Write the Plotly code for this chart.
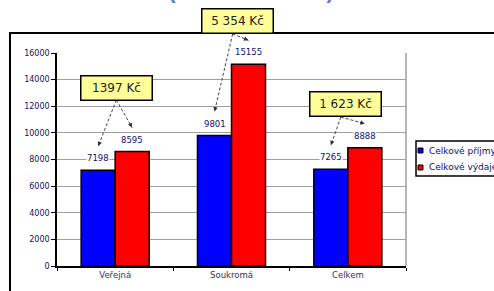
import math
import plotly.graph_objects as go

categories = ["Veřejná", "Soukromá", "Celkem"]
prijmy = [7198, 9801, 7265]
vydaje = [8595, 15155, 8888]
rozdil_labels = ["1397 Kč", "5 354 Kč", "1 623 Kč"]
series_names = ["Celkové příjmy", "Celkové výdaje"]
series_colors = ["#0000ff", "#ff0000"]
y_ticks = [0, 2000, 4000, 6000, 8000, 10000, 12000, 14000, 16000]
Y_MAX = 16000

FONT = "DejaVu Sans, sans-serif"
NAVY = "#10106a"

# layout geometry (figure pixels)
W, H = 494, 291
ML, MT = 57, 53
PLOT_W, PLOT_H = 349, 213
MR, MB = W - ML - PLOT_W, H - MT - PLOT_H

fig = go.Figure()
for name, vals, col in zip(series_names, [prijmy, vydaje], series_colors):
    fig.add_trace(go.Bar(x=categories, y=vals, name=name,
                         marker=dict(color=col, line=dict(color="black", width=1.5))))

half = 0.146
# positions of difference boxes / arrow tails (category-index, data y) -- layout choices
box_pos = [(0.01, 13370), (1.05, 18400), (1.98, 12150)]
tail_pos = [(0.01, 12470), (1.01, 17430), (1.94, 11190)]
ARROW_LIFT = 1800


def py(v):
    return v / Y_MAX


annotations = []
shapes = []
for i in range(3):
    for j, vals in enumerate([prijmy, vydaje]):
        xi = i + (-half if j == 0 else half)
        v = vals[i]
        annotations.append(dict(x=xi, y=py(v), xref="x", yref="y domain", text=str(v), showarrow=False,
                                yanchor="middle", xanchor="center",
                                yshift=12, bgcolor="white", borderpad=0,
                                font=dict(size=8.5, color=NAVY, family=FONT)))
        tx, ty = tail_pos[i]
        hy = v + ARROW_LIFT
        shapes.append(dict(type="line", xref="x", yref="y domain", x0=tx, y0=py(ty), x1=xi, y1=py(hy),
                           line=dict(color="#444444", width=1, dash="3px,2px")))
        dxp = (xi - tx) * PLOT_W / 3
        dyp = -(py(hy) - py(ty)) * PLOT_H
        ln = math.hypot(dxp, dyp)
        annotations.append(dict(x=xi, y=py(hy), xref="x", yref="y domain", text="",
                                showarrow=True, ax=-dxp / ln * 6, ay=-dyp / ln * 6,
                                arrowhead=2, arrowsize=0.9, arrowwidth=1, arrowcolor="#333333"))
    annotations.append(dict(x=box_pos[i][0], y=py(box_pos[i][1]), xref="x", yref="y domain",
                            yanchor="middle", xanchor="center",
                            text=rozdil_labels[i], showarrow=False, bgcolor="#ffff99",
                            bordercolor="black", borderwidth=1.5, borderpad=1, width=68, height=21,
                            font=dict(size=12, color="#222222", family=FONT)))

annotations.append(dict(x=0.556, y=1.2254, xref="paper", yref="paper", yanchor="bottom",
                        xanchor="center",
                        text="<b>(za měsíc v Kč)</b>", showarrow=False,
                        font=dict(size=23, color="#6680cc", family="Arial, Liberation Sans")))

# outer chart frame and plot-area right border
shapes += [
    dict(type="rect", xref="paper", yref="paper", x0=-0.1347, x1=1.3, y0=-0.15, y1=1.0939,
         line=dict(color="black", width=2), layer="below"),
    dict(type="line", xref="paper", yref="paper", x0=1, x1=1, y0=0, y1=1,
         line=dict(color="#a0a0a0", width=1.5)),
]

# legend (box, colour keys, names)
shapes.append(dict(type="rect", xref="paper", yref="paper", x0=1.0287, x1=1.35, y0=0.4225, y1=0.5869,
                   line=dict(color="black", width=1.5), fillcolor="white"))
key_y = [(0.5305, 0.554), (0.4507, 0.4742)]
for name, col, (y0, y1) in zip(series_names, series_colors, key_y):
    shapes.append(dict(type="rect", xref="paper", yref="paper", x0=1.0344, x1=1.0487, y0=y0, y1=y1,
                       line=dict(color="black", width=1), fillcolor=col))
    annotations.append(dict(x=1.0602, y=(y0 + y1) / 2, xref="paper", yref="paper", xanchor="left",
                            yanchor="middle", text=name, showarrow=False,
                            font=dict(size=9, color=NAVY, family=FONT)))

fig.update_layout(
    width=W, height=H,
    margin=dict(l=ML, r=MR, t=MT, b=MB, autoexpand=False),
    paper_bgcolor="white", plot_bgcolor="white",
    barmode="group", bargap=0.415, bargroupgap=0,
    font=dict(family=FONT, size=8, color=NAVY),
    annotations=annotations, shapes=shapes,
    showlegend=False,
    xaxis=dict(showline=True, linecolor="black", linewidth=1.5, ticks="outside",
               tickson="boundaries", ticklen=3, tickcolor="black",
               tickfont=dict(size=8.5, color="#333355")),
    yaxis=dict(range=[0, Y_MAX], tickvals=y_ticks, ticktext=[str(t) for t in y_ticks],
               showline=True, linecolor="black", linewidth=1.5, ticks="outside", ticklen=4,
               tickcolor="black", showgrid=True, gridcolor="#a0a0a0", gridwidth=1.2,
               tickfont=dict(size=8, color=NAVY), zeroline=False),
)

fig.write_html("out.html", config={"displayModeBar": False},
               post_script="document.body.style.margin='0';")
